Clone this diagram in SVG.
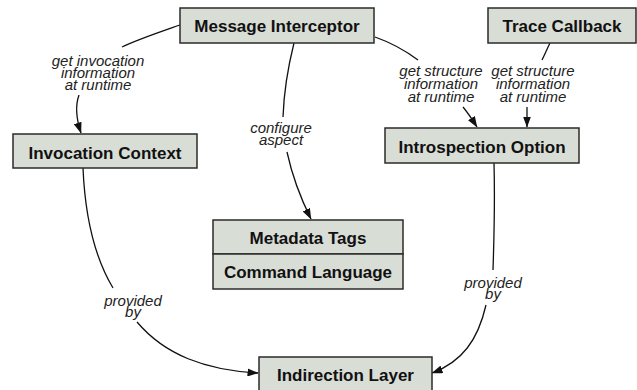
<svg xmlns="http://www.w3.org/2000/svg" width="637" height="390" viewBox="0 0 637 390">
  <style>
    .box { fill: #d8ddd5; stroke: #2b2b2b; stroke-width: 1.5; }
    .name { font-family: "Liberation Sans", Arial, sans-serif; font-weight: bold; font-size: 17px; fill: #111; text-anchor: middle; }
    .lbl { font-family: "Liberation Sans", Arial, sans-serif; font-style: italic; font-size: 15px; fill: #222; text-anchor: middle; }
    .edge { fill: none; stroke: #111; stroke-width: 1.3; }
  </style>
  <defs>
    <marker id="arrow" markerWidth="11" markerHeight="8" refX="10.5" refY="4" orient="auto" markerUnits="userSpaceOnUse">
      <path d="M0,0 L11,4 L0,8 Z" fill="#111"/>
    </marker>
  </defs>
  <rect width="637" height="390" fill="#fff"/>

  <g id="connectors">
    <!-- Message Interceptor -> Invocation Context -->
    <path class="edge" d="M180,25 C160,32 139,39 122,47"/>
    <path class="edge" d="M79,95 C75,106 76,118 81,133" marker-end="url(#arrow)"/>
    <!-- Message Interceptor -> Metadata Tags -->
    <path class="edge" d="M294,43 C289,63 284,88 283,117"/>
    <path class="edge" d="M287,152 C292,175 300,197 311,219" marker-end="url(#arrow)"/>
    <!-- Message Interceptor -> Introspection Option -->
    <path class="edge" d="M375,37 C392,43 406,51 418,60"/>
    <path class="edge" d="M463,107 C468,113 472,119 477,127" marker-end="url(#arrow)"/>
    <!-- Trace Callback -> Introspection Option -->
    <path class="edge" d="M550,43 C547,49 545,54 542,60"/>
    <path class="edge" d="M527,107 L527,127" marker-end="url(#arrow)"/>
    <!-- Invocation Context -> Indirection Layer -->
    <path class="edge" d="M83,168 C85,215 95,258 113,288"/>
    <path class="edge" d="M137,322 C165,355 205,370 258,373" marker-end="url(#arrow)"/>
    <!-- Introspection Option -> Indirection Layer -->
    <path class="edge" d="M494,163 C495,200 494,240 493,270"/>
    <path class="edge" d="M486,305 C478,340 462,362 432,373" marker-end="url(#arrow)"/>
  </g>

  <g id="edge-labels">
    <text class="lbl" x="98" y="66">get invocation</text>
    <text class="lbl" x="98" y="78">information</text>
    <text class="lbl" x="98" y="90">at runtime</text>

    <text class="lbl" x="281" y="133">configure</text>
    <text class="lbl" x="281" y="145">aspect</text>

    <text class="lbl" x="441" y="76">get structure</text>
    <text class="lbl" x="441" y="89">information</text>
    <text class="lbl" x="441" y="102">at runtime</text>

    <text class="lbl" x="533" y="76">get structure</text>
    <text class="lbl" x="533" y="89">information</text>
    <text class="lbl" x="533" y="102">at runtime</text>

    <text class="lbl" x="133" y="306">provided</text>
    <text class="lbl" x="133" y="317">by</text>

    <text class="lbl" x="493" y="288">provided</text>
    <text class="lbl" x="493" y="299">by</text>
  </g>

  <g id="message-interceptor">
    <rect class="box" x="180" y="8" width="194" height="35"/>
    <text class="name" x="277" y="32">Message Interceptor</text>
  </g>
  <g id="trace-callback">
    <rect class="box" x="488" y="8" width="148" height="35"/>
    <text class="name" x="562" y="32">Trace Callback</text>
  </g>
  <g id="invocation-context">
    <rect class="box" x="13" y="134" width="184" height="34"/>
    <text class="name" x="105" y="158.5">Invocation Context</text>
  </g>
  <g id="introspection-option">
    <rect class="box" x="385" y="128" width="194" height="35"/>
    <text class="name" x="482" y="152.5">Introspection Option</text>
  </g>
  <g id="metadata-tags">
    <rect class="box" x="213" y="220" width="190" height="34"/>
    <text class="name" x="308" y="244">Metadata Tags</text>
    <rect class="box" x="213" y="254" width="190" height="35"/>
    <text class="name" x="308" y="278">Command Language</text>
  </g>
  <g id="indirection-layer">
    <rect class="box" x="259" y="357" width="173" height="35"/>
    <text class="name" x="345.5" y="381">Indirection Layer</text>
  </g>
</svg>
